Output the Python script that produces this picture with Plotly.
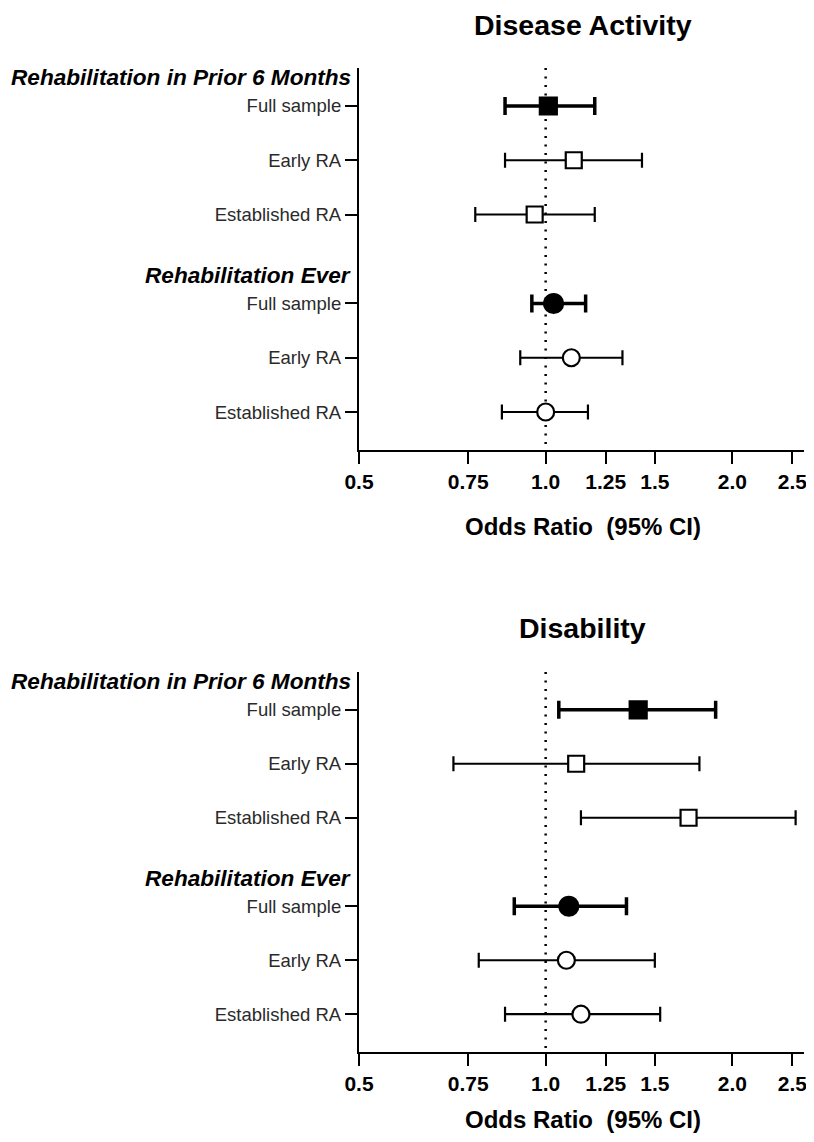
import math
import plotly.graph_objects as go

# ---------------- data ----------------
row_labels = ["Full sample", "Early RA", "Established RA",
              "Full sample", "Early RA", "Established RA"]
group_labels = ["Rehabilitation in Prior 6 Months", "Rehabilitation Ever"]
panel_titles = ["Disease Activity", "Disability"]

# Disease activity: odds ratio, lower CI, upper CI
da_or = [1.01, 1.11, 0.96, 1.03, 1.10, 1.00]
da_lo = [0.86, 0.86, 0.77, 0.95, 0.91, 0.85]
da_hi = [1.20, 1.43, 1.20, 1.16, 1.33, 1.17]

# Disability
dis_or = [1.41, 1.12, 1.70, 1.09, 1.08, 1.14]
dis_lo = [1.05, 0.71, 1.14, 0.89, 0.78, 0.86]
dis_hi = [1.88, 1.77, 2.53, 1.35, 1.50, 1.53]

x_tickvals = [0.5, 0.75, 1.0, 1.25, 1.5, 2.0, 2.5]
x_ticktext = ["0.5", "0.75", "1.0", "1.25", "1.5", "2.0", "2.5"]
ref_value = 1.0

# ---------------- layout helpers ----------------
FONT = "Liberation Sans, Arial, Helvetica, sans-serif"
OFF = 8                     # page body margin
W, H = 814 - 2 * OFF, 1142 - 2 * OFF


def px(sx):
    return (sx - OFF) / W


def py(sy):
    return 1 - (sy - OFF) / H


gap = 0.64
row_pos = [i + (gap if i >= 3 else 0) for i in range(6)]
header_pos = [row_pos[0] - 0.52, row_pos[3] - 0.52]
y_range = [row_pos[-1] + 0.70, row_pos[0] - 0.70]

x_dom = [px(359), px(804)]
x_mid = (px(359) + px(806)) / 2
panels = [
    dict(dom=[py(450), py(68)], title_y=py(25), axt_y=py(526),
         vals=(da_or, da_lo, da_hi)),
    dict(dom=[py(1052), py(672)], title_y=py(628), axt_y=py(1119),
         vals=(dis_or, dis_lo, dis_hi)),
]

fig = go.Figure()
annotations = []

for p, panel in enumerate(panels):
    xa = "x" if p == 0 else "x2"
    ya = "y" if p == 0 else "y2"
    ors, los, his = panel["vals"]

    # reference line at OR = 1
    fig.add_trace(go.Scatter(
        x=[ref_value, ref_value], y=[y_range[1], y_range[0]],
        mode="lines", line=dict(color="black", width=2.5, dash="2px,6.5px"),
        xaxis=xa, yaxis=ya, showlegend=False, hoverinfo="skip"))

    for i in range(6):
        full = (i % 3 == 0)
        sym = "square" if i < 3 else "circle"
        if full:
            size = 17 if sym == "square" else 19
        else:
            size = 16 if sym == "square" else 17
        fig.add_trace(go.Scatter(
            x=[ors[i]], y=[row_pos[i]], mode="markers",
            xaxis=xa, yaxis=ya, showlegend=False,
            marker=dict(symbol=sym, size=size,
                        color="black" if full else "white",
                        line=dict(color="black", width=2.2)),
            error_x=dict(type="data", symmetric=False,
                         array=[his[i] - ors[i]],
                         arrayminus=[ors[i] - los[i]],
                         color="black",
                         thickness=3.5 if full else 2.2,
                         width=9 if full else 7.5),
        ))

    axis_common = dict(showgrid=False, zeroline=False, showline=True,
                       linecolor="black", linewidth=2.2, ticks="outside",
                       tickcolor="black", tickwidth=2.2, automargin=False,
                       ticklabeloverflow="allow")
    xkey = "xaxis" if p == 0 else "xaxis2"
    ykey = "yaxis" if p == 0 else "yaxis2"
    fig.update_layout(**{
        xkey: dict(axis_common, type="log", domain=x_dom, anchor=ya,
                   range=[math.log10(0.5), math.log10(2.61)],
                   tickvals=x_tickvals,
                   ticktext=["<b>%s</b>" % t for t in x_ticktext],
                   ticklen=12,
                   tickfont=dict(family=FONT, size=21, color="black")),
        ykey: dict(axis_common, domain=panel["dom"], anchor=xa,
                   range=y_range, tickvals=row_pos, ticktext=row_labels,
                   ticklen=12,
                   tickfont=dict(family=FONT, size=18.5, color="#2a2a2a")),
    })

    # panel title
    annotations.append(dict(
        text="<b>%s</b>" % panel_titles[p], xref="paper", yref="paper",
        x=x_mid, y=panel["title_y"],
        xanchor="center", yanchor="middle", showarrow=False,
        font=dict(family=FONT, size=28.5, color="black")))
    # x axis title
    annotations.append(dict(
        text="<b>Odds Ratio  (95% CI)</b>", xref="paper", yref="paper",
        x=x_mid, y=panel["axt_y"],
        xanchor="center", yanchor="middle", showarrow=False,
        font=dict(family=FONT, size=24, color="black")))
    # group headers
    for g in range(2):
        annotations.append(dict(
            text="<b><i>%s</i></b>" % group_labels[g], xref="paper", yref=ya,
            x=px(353), y=header_pos[g], xanchor="right", yanchor="middle",
            showarrow=False,
            font=dict(family=FONT, size=22.6, color="black")))

fig.update_layout(
    width=W, height=H,
    margin=dict(l=0, r=0, t=0, b=0),
    paper_bgcolor="white", plot_bgcolor="white",
    annotations=annotations,
    showlegend=False,
)

fig.write_html("out.html")
